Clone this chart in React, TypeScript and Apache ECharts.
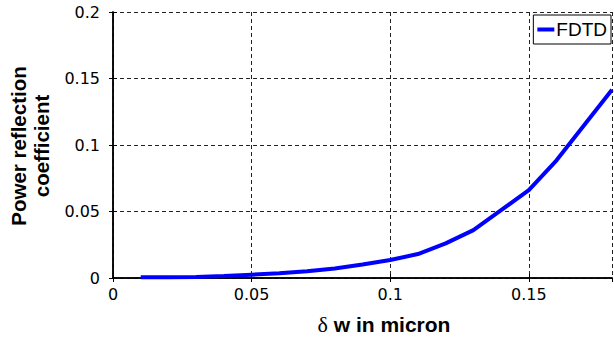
import React, { useEffect, useRef } from "react";
import * as echarts from "echarts";

const deltaW = [0.01, 0.02, 0.03, 0.04, 0.05, 0.06, 0.07, 0.08, 0.09, 0.1, 0.11, 0.12, 0.13, 0.14, 0.15, 0.16, 0.17, 0.18];
const reflection = [0.0005, 0.0006, 0.0008, 0.0015, 0.0025, 0.0035, 0.005, 0.0072, 0.0102, 0.0135, 0.018, 0.026, 0.036, 0.051, 0.066, 0.0885, 0.115, 0.1415];
const seriesName = "FDTD";
const xTitleSymbol = "δ";
const xTitleRest = " w in micron";
const yTitle = "Power reflection\ncoefficient";

export default function App() {
  const ref = useRef<HTMLDivElement>(null);
  useEffect(() => {
    if (!ref.current) return;
    const chart = echarts.init(ref.current, undefined, { renderer: "svg" });
    const tickFont = { fontFamily: "DejaVu Sans", fontSize: 16, color: "#000" };
    const split = { show: true, lineStyle: { color: "#222", type: [4, 3] as any, width: 1 } };
    chart.setOption({
      animation: false,
      backgroundColor: "#fff",
      grid: { left: 113, top: 12, right: 2, bottom: 64, containLabel: false },
      legend: {
        right: 3,
        top: 15,
        data: [seriesName],
        icon: "rect",
        itemWidth: 17,
        itemHeight: 4,
        itemGap: 0,
        padding: [5, 4, 5, 4],
        borderColor: "#000",
        borderWidth: 1,
        backgroundColor: "#fff",
        textStyle: { fontFamily: "Liberation Sans", fontSize: 19, color: "#000", padding: [0, 0, 0, -3] },
      },
      xAxis: [
        {
          type: "value",
          min: 0,
          max: 0.18,
          interval: 0.05,
          axisLine: { show: true, onZero: false, lineStyle: { color: "#000", width: 1.5 } },
          axisTick: { show: true, inside: true, length: 4, lineStyle: { color: "#000" } },
          axisLabel: { ...tickFont, margin: 8, showMaxLabel: false },
          splitLine: split,
        },
        {
          type: "value",
          position: "top",
          min: 0,
          max: 0.18,
          interval: 0.05,
          axisLine: { show: true, lineStyle: { color: "#000", width: 1.5 } },
          axisTick: { show: true, inside: true, length: 4, lineStyle: { color: "#000" } },
          axisLabel: { show: false },
          splitLine: { show: false },
        },
      ],
      yAxis: [
        {
          type: "value",
          min: 0,
          max: 0.2,
          interval: 0.05,
          axisLine: { show: true, onZero: false, lineStyle: { color: "#000", width: 1.5 } },
          axisTick: { show: true, inside: true, length: 4, lineStyle: { color: "#000" } },
          axisLabel: { ...tickFont, margin: 13, padding: [7, 0, 0, 0] },
          splitLine: split,
        },
        {
          type: "value",
          position: "right",
          min: 0,
          max: 0.2,
          interval: 0.05,
          axisLine: { show: true, lineStyle: { color: "#000", width: 1.5 } },
          axisTick: { show: true, inside: true, length: 4, lineStyle: { color: "#000" } },
          axisLabel: { show: false },
          splitLine: { show: false },
        },
      ],
      graphic: [
        {
          type: "text",
          x: 384,
          y: 324,
          style: {
            text: "{d|" + xTitleSymbol + "}{b|" + xTitleRest + "}",
            align: "center",
            verticalAlign: "middle",
            rich: {
              d: { fontFamily: "Liberation Serif", fontSize: 22, fill: "#000", fontWeight: "normal" },
              b: { fontFamily: "Liberation Sans", fontSize: 21, fontWeight: "bold", fill: "#000" },
            },
          },
        },
        {
          type: "text",
          x: 30,
          y: 146,
          rotation: Math.PI / 2,
          style: {
            text: yTitle,
            fontFamily: "Liberation Sans",
            fontWeight: "bold",
            fontSize: 20.5,
            lineHeight: 22.5,
            fill: "#000",
            align: "center",
            verticalAlign: "middle",
          },
        },
      ],
      series: [
        {
          name: seriesName,
          type: "line",
          xAxisIndex: 0,
          yAxisIndex: 0,
          showSymbol: false,
          symbol: "none",
          lineStyle: { color: "#0000ff", width: 4 },
          itemStyle: { color: "#0000ff" },
          data: deltaW.map((x, i) => [x, reflection[i]]),
        },
      ],
    });
    return () => chart.dispose();
  }, []);
  return <div ref={ref} style={{ position: "fixed", left: 0, top: 0, width: 614, height: 342 }} />;
}
